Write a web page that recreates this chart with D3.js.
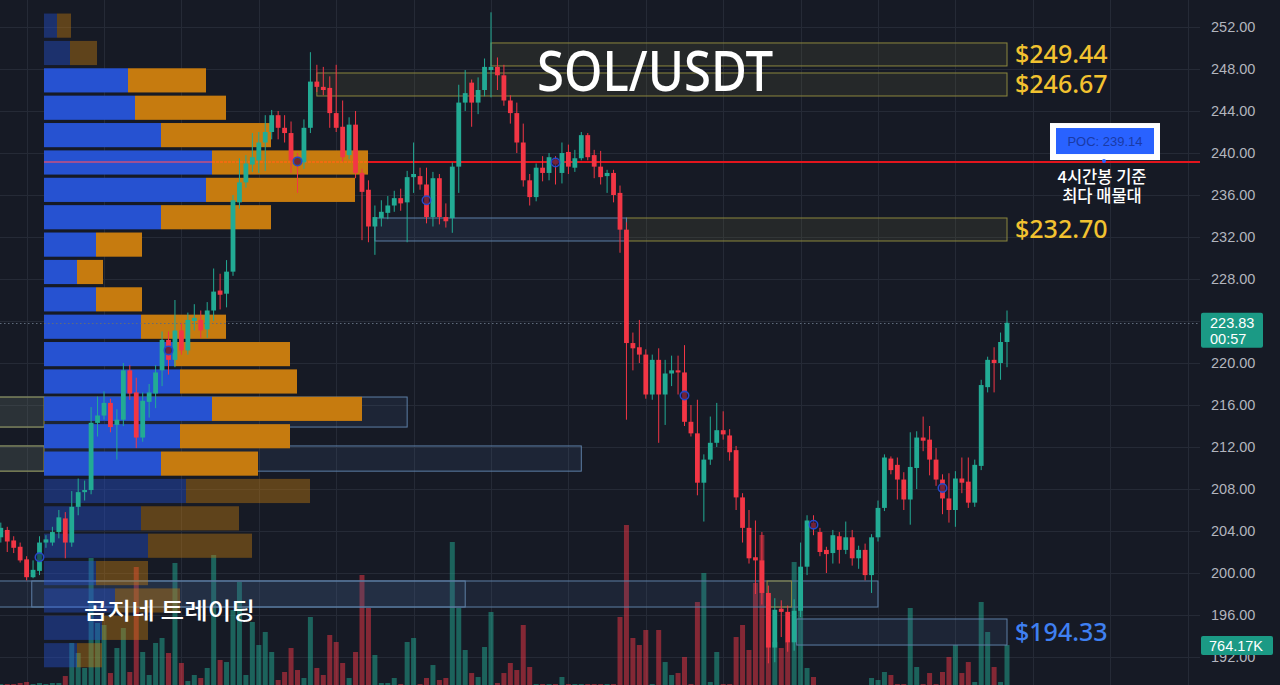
<!DOCTYPE html>
<html><head><meta charset="utf-8">
<script src="https://cdn.jsdelivr.net/npm/d3@7"></script>
<style>html,body{margin:0;padding:0;background:#161a25;overflow:hidden}</style>
</head><body><svg id="c" width="1280" height="685"></svg>
<script>
// ---------- DATA ----------
const opens=[203.4,204.1,203.1,202.5,201.3,199.6,200.2,202.9,202.9,203.9,205.2,202.9,206.3,207.7,207.9,214.3,215.0,216.2,214.1,214.6,219.3,217.2,212.9,216.3,217.1,219.3,222.2,220.3,223.1,221.2,224.0,224.1,223.2,225.0,226.9,226.6,228.7,235.3,237.2,238.9,239.3,241.0,242.0,243.6,242.4,241.9,239.3,239.1,242.4,246.8,246.3,246.2,243.8,242.5,239.8,242.7,238.1,236.5,233.0,233.8,234.3,235.0,235.7,235.3,237.7,237.8,237.0,233.9,237.6,233.9,233.8,238.7,244.8,246.7,244.8,246.0,247.9,248.2,247.4,245.0,243.8,241.0,237.4,235.8,238.6,238.1,239.4,238.1,240.1,238.6,239.5,241.7,239.8,238.7,237.8,238.1,236.2,232.7,221.9,221.5,220.8,217.0,220.3,217.0,219.0,219.3,219.1,214.4,213.3,208.6,210.8,212.4,213.6,213.1,211.7,207.2,204.3,201.5,201.2,198.1,192.9,196.6,196.3,193.4,196.4,200.6,204.8,203.9,202.2,201.9,203.5,202.2,203.4,201.4,202.2,199.8,203.4,206.2,210.9,210.3,208.9,207.0,210.0,212.9,212.7,210.8,208.9,207.1,206.0,209.0,208.7,206.7,210.2,217.7,220.3,220.0,222.0];
const highs=[204.8,204.4,203.5,202.9,201.6,201.2,203.5,203.6,204.4,206.0,205.8,207.8,209.0,208.8,215.8,216.8,217.3,216.6,215.6,220.0,219.8,218.6,217.2,218.0,219.8,223.0,223.0,226.0,223.8,224.8,225.6,225.0,225.8,229.0,228.5,229.8,236.0,239.5,239.8,241.9,242.0,243.6,244.1,244.0,243.6,243.0,240.0,243.2,249.6,248.4,248.2,247.3,248.4,245.0,243.4,244.0,238.5,237.4,235.0,235.5,235.9,236.4,236.6,238.3,241.0,238.6,238.6,238.2,238.0,235.2,239.1,246.5,247.9,247.0,247.2,249.0,253.4,249.1,248.4,245.5,244.8,242.8,238.0,239.0,239.7,240.0,239.7,241.0,240.8,240.3,242.0,241.9,240.3,240.2,238.4,238.4,236.9,233.4,222.9,224.1,221.3,220.8,221.4,220.3,220.7,220.7,221.7,216.0,216.5,211.3,214.9,216.2,215.4,213.7,212.1,207.6,206.0,205.0,203.9,198.8,197.6,197.4,196.9,197.5,202.9,205.5,205.5,204.3,202.5,204.1,203.9,204.9,204.1,202.6,202.8,203.7,206.9,211.3,211.1,211.0,209.6,213.4,213.5,214.9,214.0,211.9,209.4,209.5,209.7,211.0,211.0,210.8,218.4,220.6,221.5,222.9,225.0];
const lows=[202.9,202.0,201.9,201.0,199.3,199.5,199.8,202.4,202.6,203.3,201.4,202.5,205.5,206.9,207.5,213.0,214.6,213.4,210.8,214.0,216.5,211.9,212.5,214.8,215.7,217.8,218.9,219.6,220.8,220.8,223.1,222.4,222.4,224.0,225.1,225.3,228.3,234.7,236.7,238.2,238.1,238.3,241.3,241.3,241.0,238.1,236.2,238.5,241.9,245.8,245.5,242.4,242.0,239.2,239.4,237.6,231.7,231.5,230.3,233.0,233.7,234.4,234.5,231.5,236.2,236.5,233.3,233.0,233.2,232.9,232.4,236.2,244.0,242.5,243.7,245.4,245.3,246.0,244.5,242.8,240.0,236.8,235.0,235.4,237.3,237.4,237.0,237.1,238.0,238.2,239.3,239.3,237.6,237.0,236.2,235.3,230.5,214.6,219.3,220.0,216.6,216.5,212.4,214.1,217.8,217.0,214.0,213.0,207.4,204.9,210.3,212.0,212.7,210.7,206.0,202.9,200.9,198.0,197.0,191.4,191.5,193.9,192.5,192.6,195.8,199.8,203.6,201.6,200.0,200.9,200.9,201.8,200.7,200.4,199.3,198.1,203.0,205.9,209.4,207.0,206.0,204.6,208.0,211.6,209.3,208.3,205.6,204.8,204.4,207.6,206.2,206.3,209.8,217.2,217.2,218.4,219.6];
const closes=[204.3,203.0,202.4,201.2,199.6,200.3,202.9,203.2,203.9,205.3,202.9,206.3,207.7,207.9,214.3,215.0,216.2,213.9,214.6,219.3,217.1,212.9,216.4,217.2,219.1,222.2,220.3,223.1,221.2,224.1,224.3,223.1,225.0,226.8,226.5,228.7,235.5,237.2,239.0,239.6,241.0,242.0,243.6,242.4,241.9,239.3,239.0,242.4,246.8,246.3,246.0,243.8,242.4,239.6,242.7,238.1,236.3,233.0,233.9,234.4,235.0,235.7,235.2,237.7,238.0,237.0,233.9,237.6,233.9,233.5,238.7,244.8,245.7,244.8,246.0,248.2,248.2,247.4,245.0,243.8,241.0,237.4,235.8,238.6,238.1,239.6,238.9,240.0,238.7,239.5,241.7,239.6,238.7,237.7,238.1,236.0,232.7,221.9,221.4,220.8,217.0,220.3,217.0,219.0,219.3,219.1,214.4,213.3,208.6,210.8,212.4,213.6,213.2,211.5,207.2,204.3,201.4,201.2,198.1,192.9,196.5,196.3,193.4,196.4,200.6,205.0,204.2,202.0,201.8,203.6,202.2,203.4,201.4,202.2,199.8,203.4,206.2,211.0,209.8,208.9,207.0,210.1,212.9,212.6,210.8,208.9,207.1,206.0,209.0,208.6,206.7,210.3,217.9,220.3,220.0,222.0,223.83];
// volume in K
const volumes=[37,37,37,56,75,37,56,37,56,56,186,802,615,336,2386,1174,1137,242,708,1081,261,2218,634,205,802,895,615,2293,429,93,205,149,336,2442,485,447,1417,1939,205,1193,764,1007,634,112,261,708,298,149,1286,336,205,951,820,429,149,634,2069,1454,578,56,56,149,37,820,895,37,149,391,112,149,2684,1454,671,242,168,727,1379,56,242,429,298,1137,354,37,37,37,37,168,37,37,37,37,37,37,37,37,1286,3001,895,764,1044,37,1044,447,205,242,541,37,1566,2106,75,634,37,37,913,1137,671,1920,2815,1734,820,708,820,2311,1939,336,168,19,19,19,19,19,19,19,19,149,112,261,205,37,37,1454,354,37,242,37,261,541,764,242,447,75,1566,1007,354,75,764.17];
const priceTicks=[252,248,244,240,236,232,228,224,220,216,212,208,204,200,196,192];
const gridIdx=[4,16,28,40,52,64,76,88,100,112,124,136,148,160,172,184];
// volume profile rows, top to bottom (K)
const profileTop=253.33, profileStep=2.607;
const profileBuy=[520,1040,3360,3640,4680,6720,6480,4680,2080,1320,2080,3880,5200,5440,6720,5440,4680,5680,3880,4160,2080,2840,2320,1320];
const profileSell=[560,1080,3120,3640,4400,6240,5960,4400,1840,1040,1840,3400,4640,4680,6000,4400,3880,4960,3920,4160,2080,2600,1840,1000];
const valueAreaRows=[2,16];
const pocPrice=239.14;
const lastPrice=223.83;
// zones: index range and price range
const zoneKind=['y','y','y','b','b','b','y','y','b','b','y','b'];
const zoneI0=[76,49,97,58,-2,-2,-2,-2,-2,4.8,118.8,123.4];
const zoneI1=[156,156,156,97,63,90,6.7,6.7,136,72,122.6,156];
const zoneLo=[248.29,245.43,231.62,231.62,213.9,209.7,213.9,209.7,196.76,196.76,196.76,193.14];
const zoneHi=[250.48,247.62,233.81,233.81,216.76,212.1,216.76,212.1,199.24,199.24,199.24,195.62];
const zoneLabels=['$249.44','$246.67','$232.70',null,null,null,null,null,null,null,null,'$194.33'];
const markerIdx=[6,26,46,66,86,106,126,146];
const markerPrice=[201.5,221.2,239.2,235.5,239.1,216.9,204.6,208.1];

// ---------- DRAW ----------
const W=1280,H=685,PR=1200;
const svg=d3.select('#c');
svg.append('rect').attr('width',W).attr('height',H).attr('fill','#161a25');
const x=d3.scaleLinear().domain([0,156]).range([0.8,1007]);
const y=d3.scaleLinear().domain([192,252]).range([657,27]);
const yv=d3.scaleLinear().domain([0,764.17]).range([686,645]);
const xp=d3.scaleLinear().domain([0,13000]).range([0,325]);
const GREEN='#22ab94',RED='#f23645';
const up=i=>closes[i]>=opens[i];

// grid
const g=svg.append('g');
g.selectAll('.hg').data(priceTicks).join('line').attr('x1',0).attr('x2',PR)
 .attr('y1',d=>Math.round(y(d))+0.5).attr('y2',d=>Math.round(y(d))+0.5).attr('stroke','#252a36').attr('stroke-width',1);
g.selectAll('.vg').data(gridIdx).join('line').attr('y1',0).attr('y2',H)
 .attr('x1',d=>Math.round(x(d))+0.5).attr('x2',d=>Math.round(x(d))+0.5).attr('stroke','#252a36').attr('stroke-width',1);

// volume
svg.append('g').selectAll('rect').data(volumes).join('rect')
 .attr('x',(d,i)=>x(i)-2.5).attr('width',5).attr('y',d=>yv(d)).attr('height',d=>686-yv(d))
 .attr('fill',(d,i)=>up(i)?GREEN:RED).attr('opacity',0.5);

// zones
const zg=svg.append('g');
zoneKind.forEach((k,j)=>{
  const x0=x(zoneI0[j]), x1=x(zoneI1[j]);
  zg.append('rect').attr('x',x0).attr('y',y(zoneHi[j])).attr('width',x1-x0).attr('height',y(zoneLo[j])-y(zoneHi[j]))
   .attr('fill',k==='y'?'rgba(120,118,60,0.16)':'rgba(70,100,140,0.16)')
   .attr('stroke',k==='y'?'#8c873e':'#5d7fa6').attr('stroke-width',1);
});

// red POC line
svg.append('line').attr('x1',44).attr('x2',PR).attr('y1',y(pocPrice)).attr('y2',y(pocPrice)).attr('stroke','#e3151d').attr('stroke-width',2);

// volume profile
const pg=svg.append('g');
const PX=44;
profileBuy.forEach((b,k)=>{
  const hi=profileTop-k*profileStep, lo=hi-profileStep;
  const bright=k>=valueAreaRows[0]&&k<=valueAreaRows[1];
  const op=bright?1:0.42;
  const ry=y(hi)+0.5, rh=y(lo)-y(hi)-3.2;
  pg.append('rect').attr('x',PX).attr('y',ry).attr('width',xp(b)).attr('height',rh).attr('fill','#2652d1').attr('opacity',op);
  pg.append('rect').attr('x',PX+xp(b)).attr('y',ry).attr('width',xp(profileSell[k])).attr('height',rh).attr('fill','#c67b0f').attr('opacity',op);
  if(pocPrice<hi&&pocPrice>=lo){
    pg.append('line').attr('x1',PX).attr('x2',PX+xp(b)).attr('y1',y(pocPrice)).attr('y2',y(pocPrice)).attr('stroke','#c8507e').attr('stroke-width',1.5);
    pg.append('line').attr('x1',PX+xp(b)).attr('x2',PX+xp(b)+xp(profileSell[k])).attr('y1',y(pocPrice)).attr('y2',y(pocPrice)).attr('stroke','#ff6a10').attr('stroke-width',1.5).attr('stroke-dasharray','3,1');
  }
});

// last price dotted line
svg.append('line').attr('x1',0).attr('x2',PR).attr('y1',Math.round(y(lastPrice))+0.5).attr('y2',Math.round(y(lastPrice))+0.5)
 .attr('stroke','#5f6b7c').attr('stroke-width',1).attr('stroke-dasharray','1.5,2.5');

// candles
const cg=svg.append('g');
opens.forEach((o,i)=>{
  const c=closes[i], col=up(i)?GREEN:RED, cx=x(i);
  cg.append('line').attr('x1',cx).attr('x2',cx).attr('y1',y(highs[i])).attr('y2',y(lows[i])).attr('stroke',col).attr('stroke-width',1);
  const t=y(Math.max(o,c)), bt=y(Math.min(o,c));
  cg.append('rect').attr('x',cx-2.4).attr('width',4.8).attr('y',t).attr('height',Math.max(1,bt-t)).attr('fill',col);
});

// markers
svg.append('g').selectAll('circle').data(markerIdx).join('circle')
 .attr('cx',d=>x(d)).attr('cy',(d,j)=>y(markerPrice[j])).attr('r',4.2)
 .attr('fill','rgba(15,20,45,0.55)').attr('stroke','#2748c9').attr('stroke-width',1.6);

// zone labels
zoneLabels.forEach((l,j)=>{
  if(!l) return;
  svg.append('text').attr('x',1015).attr('y',y((zoneLo[j]+zoneHi[j])/2)+9).text(l)
   .attr('font-family','Noto Sans, sans-serif').attr('font-size',25).attr('font-weight',500)
   .attr('fill',zoneKind[j]==='y'?'#f2c230':'#3f80f2');
});

// title
svg.append('text').attr('x',537).attr('y',91).text('SOL/USDT').attr('font-family','Noto Sans, sans-serif')
 .attr('font-size',57).attr('font-weight',500).attr('fill','#ffffff').attr('textLength',236).attr('lengthAdjust','spacingAndGlyphs');
svg.append('text').attr('x',84).attr('y',619).text('곰지네 트레이딩').attr('font-family','Noto Sans CJK KR, sans-serif')
 .attr('font-size',23).attr('font-weight',500).attr('fill','#ffffff').attr('textLength',171).attr('lengthAdjust','spacingAndGlyphs');

// POC box
const pocY=y(pocPrice);
svg.append('rect').attr('x',1050).attr('y',pocY-39).attr('width',110).attr('height',37).attr('fill','#ffffff');
svg.append('rect').attr('x',1056).attr('y',pocY-34).attr('width',98).attr('height',26).attr('fill','#2962ff');
svg.append('text').attr('x',1105).attr('y',pocY-16).attr('text-anchor','middle').text('POC: '+pocPrice.toFixed(2))
 .attr('font-family','Liberation Sans, Arial, sans-serif').attr('font-size',13).attr('fill','#1a3aa6');
svg.append('circle').attr('cx',1104).attr('cy',pocY-1).attr('r',2).attr('fill','#2962ff');
svg.append('text').attr('x',1102).attr('y',pocY+21).attr('text-anchor','middle').text('4시간봉 기준')
 .attr('font-family','Noto Sans CJK KR, sans-serif').attr('font-size',16.5).attr('font-weight',500).attr('fill','#ffffff');
svg.append('text').attr('x',1102).attr('y',pocY+40).attr('text-anchor','middle').text('최다 매물대')
 .attr('font-family','Noto Sans CJK KR, sans-serif').attr('font-size',16.5).attr('font-weight',500).attr('fill','#ffffff');

// price axis labels
svg.append('g').selectAll('text').data(priceTicks).join('text')
 .attr('x',1211).attr('y',d=>y(d)+5).text(d=>d.toFixed(2))
 .attr('font-family','Liberation Sans, Arial, sans-serif').attr('font-size',14.5).attr('fill','#b2b5be');

// last price tag
const lpY=y(lastPrice);
svg.append('rect').attr('x',1201).attr('y',lpY-10).attr('width',62).attr('height',35).attr('rx',2).attr('fill','#1b9a85');
svg.append('text').attr('x',1210).attr('y',lpY+5).text(lastPrice.toFixed(2)).attr('font-family','Liberation Sans, Arial, sans-serif').attr('font-size',14.5).attr('fill','#ffffff');
svg.append('text').attr('x',1210).attr('y',lpY+21).text('00:57').attr('font-family','Liberation Sans, Arial, sans-serif').attr('font-size',14.5).attr('fill','#ffffff');
// volume tag
const lv=volumes[volumes.length-1];
svg.append('rect').attr('x',1201).attr('y',yv(lv)-9).attr('width',72).attr('height',19).attr('rx',2).attr('fill','#1b9a85');
svg.append('text').attr('x',1209).attr('y',yv(lv)+6).text(lv.toFixed(2)+'K').attr('font-family','Liberation Sans, Arial, sans-serif').attr('font-size',14.5).attr('fill','#ffffff');
</script></body></html>
